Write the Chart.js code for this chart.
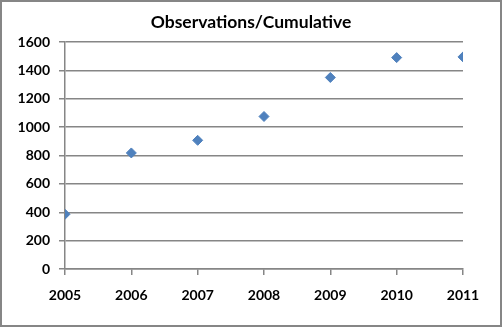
<!DOCTYPE html>
<html>
<head>
<meta charset="utf-8">
<script src="https://cdn.jsdelivr.net/npm/chart.js@4"></script>
<style>
  html, body { margin: 0; padding: 0; background: #fff; }
  #wrap { width: 502px; height: 327px; position: relative; }
</style>
</head>
<body>
<div id="wrap"><canvas id="chart" width="502" height="327"></canvas></div>
<script>
// data
const years = [2005, 2006, 2007, 2008, 2009, 2010, 2011];
const cumulative = [386, 818, 907, 1075, 1350, 1490, 1495];
const yTicks = [0, 200, 400, 600, 800, 1000, 1200, 1400, 1600];
const titleText = "Observations/Cumulative";

const GRAY = "#868686";
const FONT = "Lato";

// outer frame + title centred on the whole canvas (excel style)
const framePlugin = {
  id: "frame",
  afterDraw(chart) {
    const ctx = chart.ctx;
    ctx.save();
    ctx.strokeStyle = GRAY;
    ctx.lineWidth = 2;
    ctx.strokeRect(1, 1, chart.width - 2, chart.height - 2);
    ctx.fillStyle = "#000";
    ctx.font = "bold 17.5px " + FONT;
    ctx.textAlign = "center";
    ctx.textBaseline = "middle";
    ctx.fillText(titleText, chart.width / 2, 22);
    ctx.restore();
  }
};

new Chart(document.getElementById("chart"), {
  type: "scatter",
  data: {
    datasets: [{
      label: titleText,
      data: years.map((y, i) => ({ x: y, y: cumulative[i] })),
      pointStyle: "rectRot",
      pointRadius: 5,
      pointHoverRadius: 5,
      backgroundColor: "#4F81BD",
      borderColor: "#4F81BD",
      borderWidth: 1
    }]
  },
  options: {
    responsive: false,
    animation: false,
    layout: { padding: { left: 0, right: 39, top: 42, bottom: 0 } },
    plugins: {
      legend: { display: false },
      tooltip: { enabled: false },
      title: { display: false }
    },
    scales: {
      x: {
        type: "linear",
        min: years[0],
        max: years[years.length - 1],
        afterBuildTicks: s => { s.ticks = years.map(v => ({ value: v })); },
        afterFit: s => { s.height = 58; },
        ticks: {
          color: "#000",
          font: { family: FONT, size: 14, weight: "bold" },
          padding: 12,
          maxRotation: 0,
          callback: v => String(v)
        },
        grid: { drawOnChartArea: false, drawTicks: true, tickLength: 6, color: GRAY, lineWidth: 1.5 },
        border: { display: true, color: GRAY, width: 1.5 }
      },
      y: {
        min: 0,
        max: 1600,
        afterBuildTicks: s => { s.ticks = yTicks.map(v => ({ value: v })); },
        afterFit: s => { s.width = 65; },
        ticks: {
          color: "#000",
          font: { family: FONT, size: 14, weight: "bold" },
          padding: 9,
          callback: v => String(v)
        },
        grid: { drawTicks: true, tickLength: 6, color: GRAY, lineWidth: 1.5 },
        border: { display: true, color: GRAY, width: 1.5 }
      }
    }
  },
  plugins: [framePlugin]
});
</script>
</body>
</html>
